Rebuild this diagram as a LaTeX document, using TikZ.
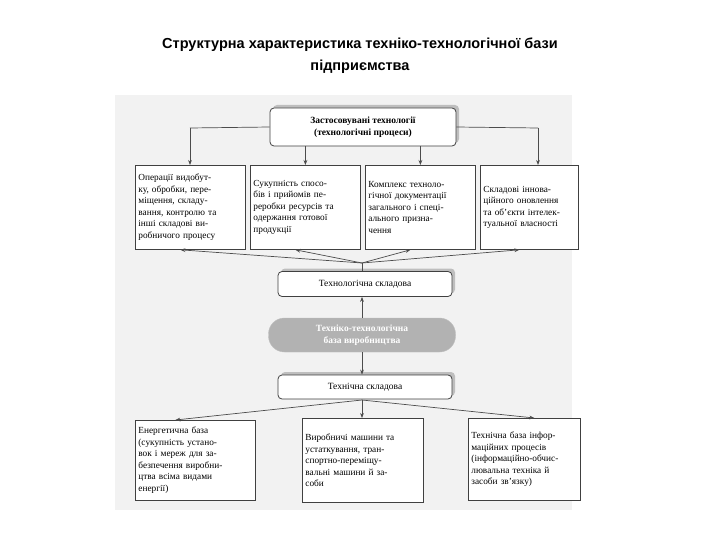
\documentclass[tikz,border=0pt]{standalone}
\usepackage{fontspec}
\setmainfont{Liberation Serif}
\newfontfamily\titlefont{Liberation Sans}
\usetikzlibrary{arrows.meta,shadows}
\begin{document}
\begin{tikzpicture}[x=1pt,y=-1pt,
  bx/.style={draw=black!75,line width=0.8pt,fill=white,inner sep=3pt,font=\fontsize{9.3}{11.5}\selectfont,align=left,anchor=north west},
  rbx/.style={draw=black!75,line width=0.8pt,fill=white,rounded corners=4pt,font=\fontsize{9.5}{11.5}\selectfont,align=center,drop shadow={shadow xshift=3pt,shadow yshift=3pt,fill=black!45}},
  arr/.style={-{Stealth[length=5pt]},draw=black!70,line width=0.7pt}]
\useasboundingbox (0,0) rectangle (720,540);
\fill[black!5] (115,95) rectangle (572,510);
\node[font=\titlefont\bfseries\fontsize{14.5}{22}\selectfont,align=center] (title) at (360,56) {Структурна характеристика техніко-технологічної бази\\підприємства};
\node[rbx,minimum width=186,minimum height=38] (top) at (363,127) {\bfseries Застосовувані технології\\ \bfseries (технологічні процеси)};
\node[bx,text width=104,minimum height=84] (b1) at (135,165) {Операції видобут-\\ку, обробки, пере-\\міщення, складу-\\вання, контролю та\\інші складові ви-\\робничого процесу};
\node[bx,text width=104,minimum height=84] (b2) at (250,165) {Сукупність спосо-\\бів і прийомів пе-\\реробки ресурсів та\\одержання готової\\продукції};
\node[bx,text width=104,minimum height=84] (b3) at (365,165) {Комплекс техноло-\\гічної документації\\загального і спеці-\\ального призна-\\чення};
\node[bx,text width=92,minimum height=84] (b4) at (480,165) {Складові іннова-\\ційного оновлення\\та об'єкти інтелек-\\туальної власності};
\coordinate (tl) at (190,128);
\coordinate (tr) at (538,128);
\draw[draw=black!70,line width=0.7pt] (top.west) -- (tl) (top.east) -- (tr);
\draw[arr] (tl) -- (b1.north -| tl);
\draw[arr] (tr) -- (b4.north -| tr);
\draw[arr] (top.south -| b2.north) -- (b2.north);
\draw[arr] (top.south -| b3.north) -- (b3.north);
\node[rbx,minimum width=174,minimum height=25] (tech) at (365,284) {Технологічна складова};
\coordinate (hub) at (362,263);
\draw[draw=black!70,line width=0.7pt] (tech.north -| hub) -- (hub);
\foreach \b in {b1,b2,b3,b4}{\draw[arr] (hub) -- ([xshift=-10]\b.south);}
\node[draw=black!25,fill=black!30,rounded corners=16pt,minimum width=187,minimum height=34,text=white,font=\fontsize{9.5}{11.5}\selectfont\bfseries,align=center] (base) at (362,335) {Техніко-технологічна\\база виробництва};
\draw[arr] (base.north) -- (base.north |- tech.south);
\node[rbx,minimum width=174,minimum height=24] (techn) at (365,387) {Технічна складова};
\draw[arr] (base.south) -- (base.south |- techn.north);
\node[bx,text width=114,minimum height=80] (c1) at (135,420) {Енергетична база\\(сукупність устано-\\вок і мереж для за-\\безпечення виробни-\\цтва всіма видами\\енергії)};
\node[bx,text width=115,minimum height=84] (c2) at (302,418) {Виробничі машини та\\устаткування, тран-\\спортно-переміщу-\\вальні машини й за-\\соби};
\node[bx,text width=106,minimum height=82] (c3) at (468,418) {Технічна база інфор-\\маційних процесів\\(інформаційно-обчис-\\лювальна техніка й\\засоби зв'язку)};
\coordinate (hub2) at (362,400);
\draw[arr] (hub2) -- ([xshift=-20]c1.north);
\draw[arr] (hub2) -- (hub2 |- c2.north);
\draw[arr] (hub2) -- ([xshift=10]c3.north);
\end{tikzpicture}
\end{document}
